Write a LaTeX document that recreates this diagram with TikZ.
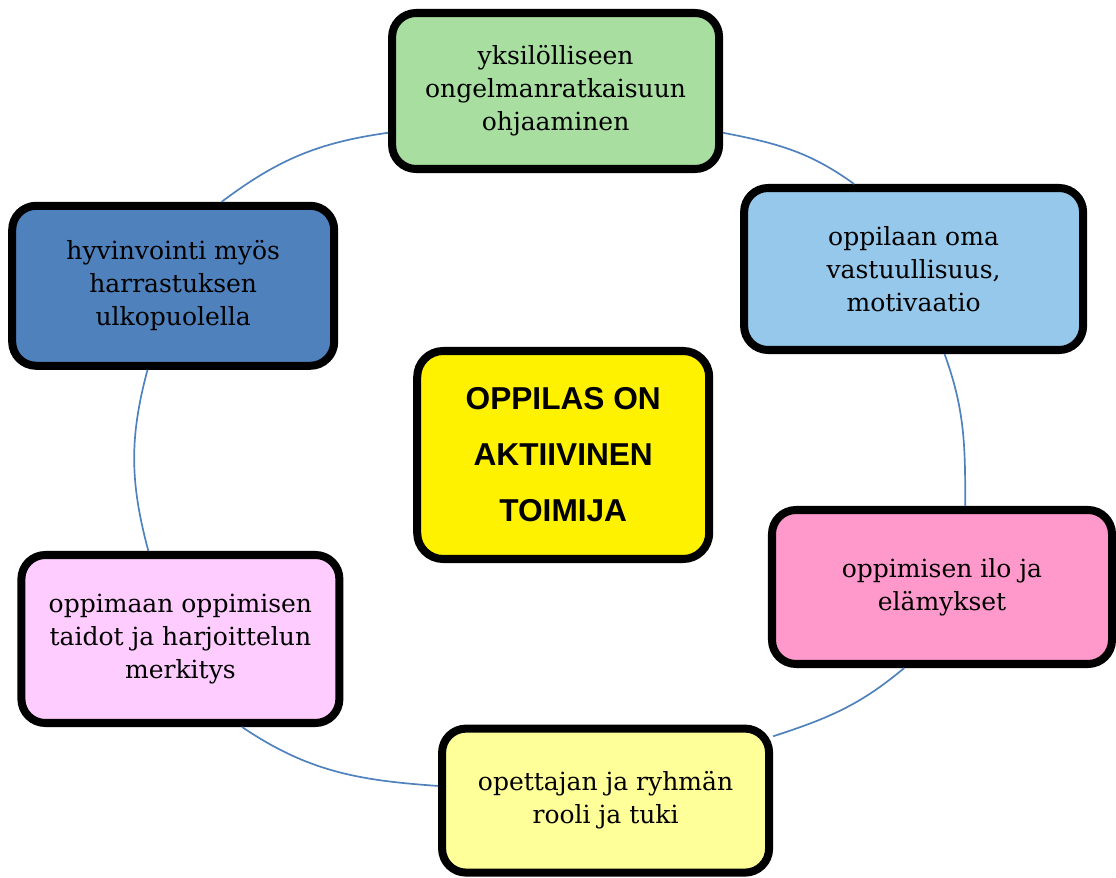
\documentclass[tikz,border=0pt]{standalone}
\usepackage{fontspec}
\setmainfont{DejaVu Serif}
\newfontfamily\headfont{Liberation Sans}
\usepackage{xcolor}
\usepackage{tikz}

\definecolor{ohjgreen}{HTML}{A8DFA0}
\definecolor{vastblue}{HTML}{95C8EA}
\definecolor{ilopink}{HTML}{FF99CC}
\definecolor{tukiyellow}{HTML}{FFFF99}
\definecolor{taidlilac}{HTML}{FFCCFF}
\definecolor{hyvblue}{HTML}{4F81BD}
\definecolor{ringblue}{HTML}{4F81BD}

\tikzset{
  box/.style={draw=black, line width=5.7pt, rounded corners=0.6cm, align=center,
    inner sep=0pt, font=\fontsize{17.8pt}{23.5pt}\selectfont},
  ring/.style={draw=ringblue, line width=1.2pt},
}

\begin{document}
\begin{tikzpicture}
        \useasboundingbox (0,0) rectangle (27.9,21.925);

        \node[box, fill=ohjgreen, minimum width=8.175cm, minimum height=3.9cm] (ohj) at (13.89,19.65) {yksilölliseen\\ongelmanratkaisuun\\ohjaaminen};
        \node[box, fill=vastblue, minimum width=8.475cm, minimum height=4.05cm] (vast) at (22.84,15.2) {oppilaan oma\\vastuullisuus,\\motivaatio};
        \node[box, fill=ilopink, minimum width=8.5cm, minimum height=3.85cm] (ilo) at (23.55,7.25) {oppimisen ilo ja\\elämykset};
        \node[box, fill=tukiyellow, minimum width=8.175cm, minimum height=3.6cm] (tuki) at (15.14,1.91) {opettajan ja ryhmän\\rooli ja tuki};
        \node[box, fill=taidlilac, minimum width=7.95cm, minimum height=4.2cm] (taid) at (4.51,5.95) {oppimaan oppimisen\\taidot ja harjoittelun\\merkitys};
        \node[box, fill=hyvblue, minimum width=8.05cm, minimum height=4.0cm] (hyv) at (4.33,14.78) {hyvinvointi myös\\harrastuksen\\ulkopuolella};

        \node[box, fill=yellow, rounded corners=0.65cm, minimum width=7.3cm, minimum height=5.2cm,
          font=\headfont\bfseries\fontsize{22.5pt}{39.8pt}\selectfont] (opp) at (14.08,10.55) {OPPILAS ON\\AKTIIVINEN\\TOIMIJA};

        \draw[ring] (ohj.194) to[out=188,in=37] (hyv.60);
        \draw[ring] (ohj.346) to[out=-11,in=144] (vast.125);
        \draw[ring] (vast.290) to[out=-70,in=90] (ilo.74);
        \draw[ring] (ilo.245) to[out=220,in=18] (tuki.21);
        \draw[ring] (tuki.175) to[out=176,in=326] (taid.305);
        \draw[ring] (taid.110) to[out=105,in=255] (hyv.253);
    \end{tikzpicture}
\end{document}
